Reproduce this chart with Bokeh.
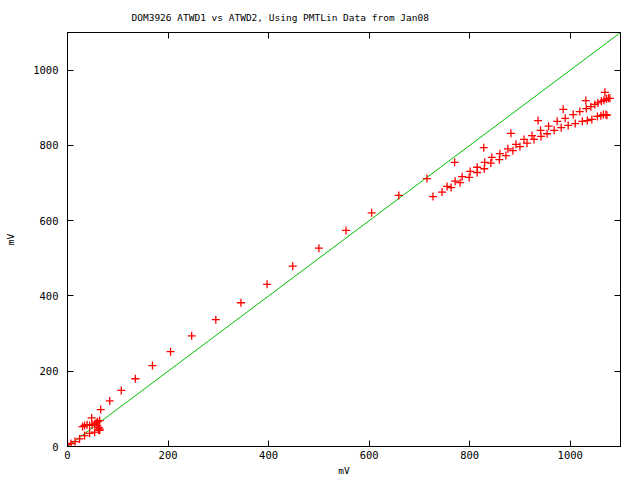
from bokeh.plotting import figure
from bokeh.models import LinearAxis, Range1d, FixedTicker
from bokeh.embed import file_html
from bokeh.resources import INLINE

# ---- data (mV) ----
atwd1_mv = [0, 7, 15, 24, 34, 44, 54, 62, 64, 64, 62, 59,
            30, 34, 39, 44, 49, 54, 57, 60, 64, 48, 66, 84,
            107, 135, 169, 205, 247, 295, 345, 397, 448, 500, 554, 605, 659, 715,
            727, 745, 755, 763, 770, 771, 781, 785, 799, 801, 815, 815, 828, 829,
            830, 842, 844, 859, 860, 872, 876, 882, 886, 892, 900, 908, 914, 924,
            928, 936, 941, 942, 954, 957, 968, 974, 982, 986, 990, 996, 1006, 1010,
            1019, 1024, 1031, 1032, 1034, 1041, 1043, 1049, 1054, 1055, 1061, 1062,
            1066, 1067, 1069, 1071, 1072, 1073, 1076, 1079]
atwd2_mv = [5, 8, 13, 20, 29, 35, 38, 44, 47, 43, 51, 56,
            53, 56, 58, 56, 58, 60, 63, 66, 69, 76, 98, 121,
            149, 180, 215, 252, 294, 337, 382, 431, 479, 527, 574, 621, 667, 712,
            664, 676, 691, 688, 755, 705, 701, 717, 715, 731, 728, 742, 794, 738,
            755, 753, 768, 762, 778, 773, 791, 832, 786, 803, 797, 816, 806, 826,
            816, 866, 840, 824, 831, 851, 840, 864, 847, 896, 872, 853, 882, 858,
            890, 864, 919, 898, 866, 903, 869, 909, 877, 913, 879, 917,
            882, 920, 941, 882, 923, 880, 925, 925]
ref_x = [0, 1100]
ref_y = [0, 1100]
x_ticks = [0, 200, 400, 600, 800, 1000]
y_ticks = [0, 200, 400, 600, 800, 1000]
title_text = "DOM3926 ATWD1 vs ATWD2, Using PMTLin Data from Jan08"
x_label = "mV"
y_label = "mV"

FONT = "DejaVu Sans Mono"

p = figure(width=640, height=480, output_backend="svg", toolbar_location=None,
           x_range=Range1d(0, 1100), y_range=Range1d(0, 1100),
           min_border_left=67, min_border_right=20, min_border_top=32, min_border_bottom=34,
           x_axis_type=None, y_axis_type=None)
p.grid.visible = False
p.outline_line_color = "black"
p.outline_line_width = 1
p.background_fill_color = "white"
p.border_fill_color = "white"

p.title.text = title_text
p.title.align = "left"
p.title.vertical_align = "middle"
p.title.offset = 64
p.title.standoff = 17
p.title.text_font = FONT
p.title.text_font_size = "9.5px"
p.title.text_font_style = "normal"
p.title.text_color = "black"


def mk_axis(ticks, show_labels):
    ax = LinearAxis(ticker=FixedTicker(ticks=ticks))
    ax.major_tick_in = 6
    ax.major_tick_out = 0
    ax.minor_tick_in = 0
    ax.minor_tick_out = 0
    ax.axis_line_color = "black"
    ax.major_tick_line_color = "black"
    ax.major_label_text_font = FONT
    ax.major_label_text_font_size = "10.5px"
    ax.major_label_text_color = "black"
    ax.axis_label_text_font = FONT
    ax.axis_label_text_font_size = "9.5px"
    ax.axis_label_text_font_style = "normal"
    ax.axis_label_text_color = "black"
    if not show_labels:
        ax.major_label_standoff = 0
        ax.major_label_overrides = {t: "" for t in ticks}
    return ax


bx = mk_axis(x_ticks, True)
bx.major_label_standoff = 4
bx.axis_label = x_label
bx.axis_label_standoff = 3
p.add_layout(bx, "below")

ly = mk_axis(y_ticks, True)
ly.major_label_standoff = 9
ly.axis_label = y_label
ly.axis_label_standoff = 14
p.add_layout(ly, "left")

p.add_layout(mk_axis(x_ticks, False), "above")
p.add_layout(mk_axis(y_ticks, False), "right")

p.line(ref_x, ref_y, line_color="#00c000", line_width=1)
p.scatter(atwd1_mv, atwd2_mv, marker="cross", size=8, line_color="#ff0000", line_width=1.3)

open("out.html", "w").write(file_html(p, INLINE))
